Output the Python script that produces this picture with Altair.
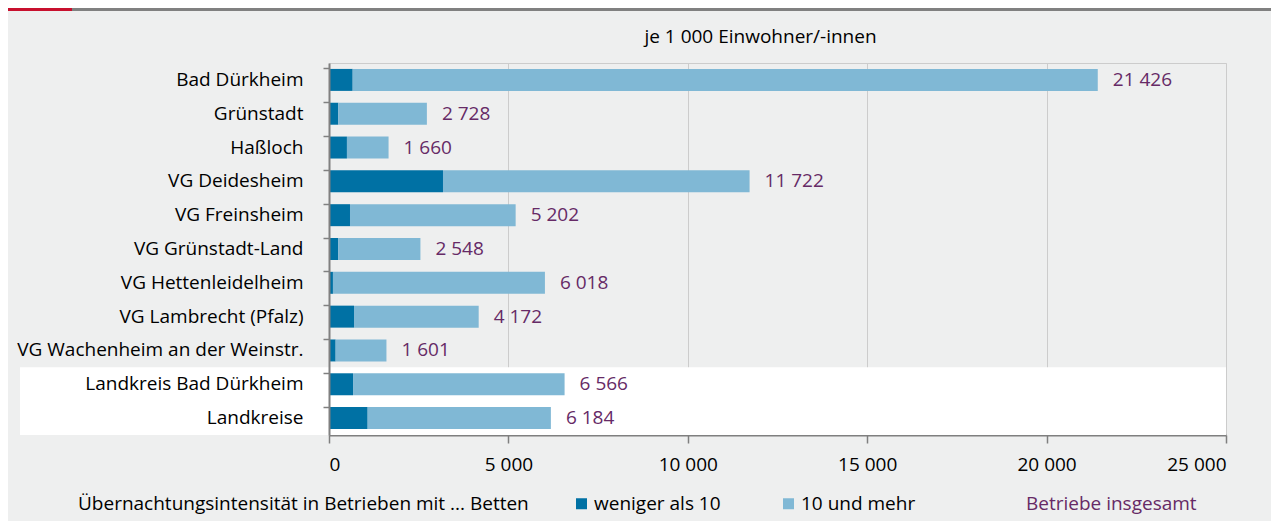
import altair as alt
import pandas as pd

regions = ["Bad Dürkheim", "Grünstadt", "Haßloch", "VG Deidesheim", "VG Freinsheim",
           "VG Grünstadt-Land", "VG Hettenleidelheim", "VG Lambrecht (Pfalz)",
           "VG Wachenheim an der Weinstr.", "Landkreis Bad Dürkheim", "Landkreise"]
small = [660, 260, 500, 3177, 585, 260, 110, 697, 185, 670, 1078]
total = [21426, 2728, 1660, 11722, 5202, 2548, 6018, 4172, 1601, 6566, 6184]
series = ["weniger als 10", "10 und mehr"]
colors = ["#0071a4", "#80b8d5"]
total_label = "Betriebe insgesamt"
chart_title = "je 1 000 Einwohner/-innen"
purple = "#662a66"
x_ticks = [0, 5000, 10000, 15000, 20000, 25000]

rows = []
for r, s, t in zip(regions, small, total):
    rows.append({"region": r, "series": series[0], "value": s, "ord": 0})
    rows.append({"region": r, "series": series[1], "value": t - s, "ord": 1})
bars_df = pd.DataFrame(rows)
tot_df = pd.DataFrame({
    "region": regions,
    "total": total,
    "label": [f"{t:,}".replace(",", " ") for t in total],
    "kind": [total_label] * len(regions),
})

W, H = 897, 372
FONT = "Open Sans"
FS = 19

xscale = alt.Scale(domain=[0, 25000], nice=False, zero=True)
yscale = alt.Scale(paddingInner=0.35, paddingOuter=0.175)

x_axis = alt.Axis(title=None, values=x_ticks, grid=True, gridColor="#cccccc", gridWidth=1,
                  domainColor="#7f7f7f", domainWidth=2, tickColor="#7f7f7f", tickWidth=1.5,
                  tickSize=8, labelPadding=12, labelFontSize=FS, labelFont=FONT,
                  labelColor="black",
                  labelExpr="replace(format(datum.value, ','), ',', ' ')")
y_axis = alt.Axis(title=None, bandPosition=0, domainColor="#808080", domainWidth=2,
                  tickColor="#808080", tickWidth=1.5, tickSize=6, labelPadding=20,
                  labelFontSize=FS, labelFont=FONT, labelColor="black", labelLimit=400,
                  zindex=1)

one = pd.DataFrame({"a": [0]})
band = alt.Chart(one).mark_rect(color="white").encode(
    x=alt.value(-309), x2=alt.value(W),
    y=alt.value(H - 2 * H / 11), y2=alt.value(H))

topgray = alt.Chart(one).mark_rule(color="#808080", strokeWidth=3).encode(
    x=alt.value(-257), x2=alt.value(W + 45), y=alt.value(-53.5))
topred = alt.Chart(one).mark_rule(color="#c8102e", strokeWidth=3).encode(
    x=alt.value(-321), x2=alt.value(-257), y=alt.value(-53.5))

title_txt = alt.Chart(pd.DataFrame({"t": [chart_title]})).mark_text(
    align="center", baseline="middle", fontSize=FS, font=FONT, color="black").encode(
    text="t:N", x=alt.value(W / 2 - 17), y=alt.value(-26))

bars = alt.Chart(bars_df).mark_bar().encode(
    x=alt.X("value:Q", stack="zero", scale=xscale, axis=x_axis),
    y=alt.Y("region:N", sort=regions, scale=yscale, axis=y_axis),
    color=alt.Color("series:N", scale=alt.Scale(domain=series, range=colors),
                    legend=alt.Legend(title="Übernachtungsintensität in Betrieben mit ...  Betten",
                                      orient="none", legendX=-251, legendY=431,
                                      direction="horizontal", titleOrient="left",
                                      titleBaseline="middle", titleFontSize=FS,
                                      titleFontWeight="normal", titleFont=FONT,
                                      titleColor="black", titlePadding=38, titleLimit=700,
                                      symbolType="square", symbolSize=121,
                                      symbolStrokeWidth=0, labelFontSize=FS,
                                      labelFont=FONT, labelColor="black", labelLimit=400,
                                      labelOffset=3, columnPadding=58)),
    order=alt.Order("ord:Q"),
)

labels = alt.Chart(tot_df).mark_text(align="left", baseline="middle", dx=15,
                                     fontSize=FS, font=FONT).encode(
    x=alt.X("total:Q", scale=xscale),
    y=alt.Y("region:N", sort=regions, scale=yscale),
    text="label:N",
    fill=alt.Fill("kind:N", scale=alt.Scale(domain=[total_label], range=[purple]),
                  legend=alt.Legend(title=None, orient="none", legendX=678, legendY=431,
                                    symbolSize=0, symbolOpacity=0, labelOffset=0,
                                    labelFontSize=FS, labelFont=FONT, labelColor=purple,
                                    labelLimit=400)),
)

chart = alt.layer(band, topgray, topred, title_txt, bars, labels).properties(
    width=W, height=H,
    autosize=alt.AutoSizeParams(type="none"),
    padding={"left": 321, "top": 55, "right": 45, "bottom": 86},
).configure(background="#eeefef").configure_view(stroke="#cccccc", strokeWidth=1)

chart.save("out.html", embed_options={"renderer": "svg", "actions": False})
